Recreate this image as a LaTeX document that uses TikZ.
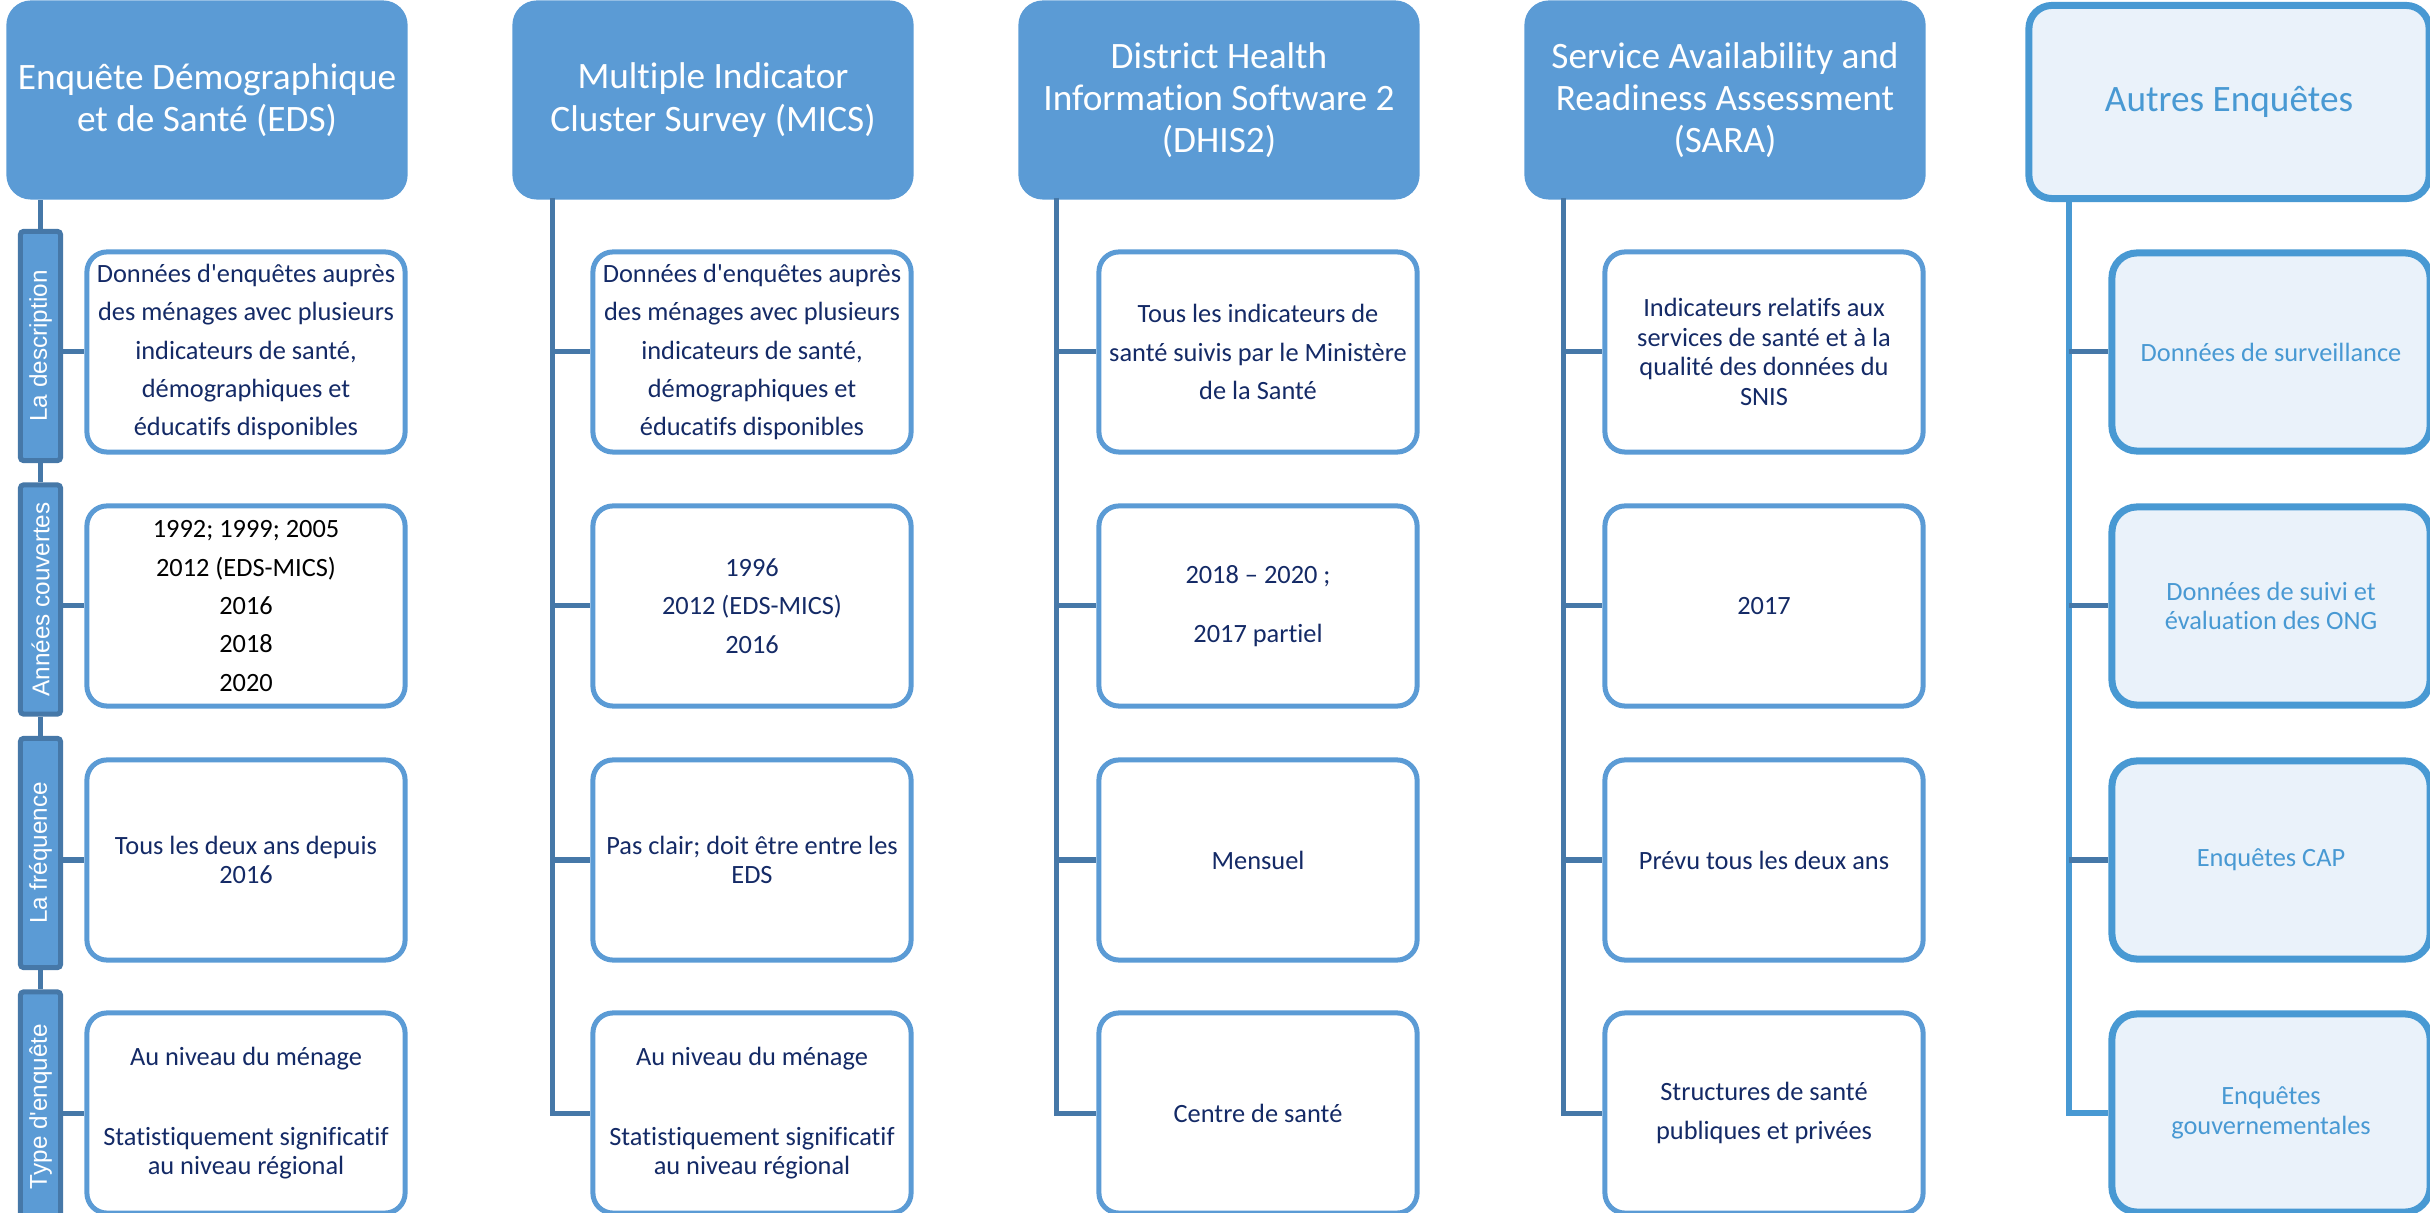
\documentclass[tikz,border=0pt]{standalone}
\usepackage{fontspec}
\setmainfont{Carlito}[Ligatures={NoCommon}]
\newfontfamily\arialfont{Liberation Sans}
\usepackage{xcolor}
\usepackage{tikz}
\usetikzlibrary{positioning, calc}
\definecolor{hdrblue}{RGB}{91,155,213}
\definecolor{trunkblue}{RGB}{70,120,168}
\definecolor{navytext}{RGB}{20,42,102}
\definecolor{paleblue}{RGB}{234,242,250}
\definecolor{otherblue}{RGB}{72,153,211}

\begin{document}
\begin{tikzpicture}[x=0.01cm, y=-0.01cm]
\tikzstyle{hdr}=[rectangle, rounded corners=2.3mm, fill=hdrblue, draw=hdrblue, line width=0.3mm, minimum width=3.98cm, minimum height=1.96cm, inner sep=0pt, align=center, text=white, font=\fontsize{10.6}{12}\selectfont]
\tikzstyle{infobox}=[rectangle, rounded corners=2mm, fill=white, draw=hdrblue, line width=0.5mm, minimum width=3.18cm, minimum height=2cm, inner sep=0pt, align=center, text=navytext, font=\fontsize{7.5}{8.4}\selectfont]
\tikzstyle{wideinfo}=[infobox, font=\fontsize{7.5}{10.9}\selectfont]
\tikzstyle{sidelabel}=[rectangle, rounded corners=0.3mm, fill=hdrblue, draw=trunkblue, line width=0.5mm, minimum width=2.29cm, minimum height=0.4cm, inner sep=0pt, rotate=90, text=white, font=\arialfont\fontsize{6.9}{8}\selectfont]
\tikzstyle{otherhdr}=[hdr, fill=paleblue, draw=otherblue, line width=0.7mm, text=otherblue, minimum width=4cm, minimum height=1.93cm]
\tikzstyle{otherbox}=[infobox, fill=paleblue, draw=otherblue, line width=0.7mm, text=otherblue, rounded corners=2.5mm, minimum height=1.98cm]
\tikzstyle{trunk}=[draw=trunkblue, line width=0.5mm]
\tikzstyle{othertrunk}=[draw=otherblue, line width=0.55mm]

\useasboundingbox (0,0) rectangle (2430,1213);
\clip (0,0) rectangle (2430,1213);

%% headers
\node (h1) at (207,100) [hdr] {Enquête Démographique\\et de Santé (EDS)};
\node (h2) at (713,100) [hdr] {Multiple Indicator\\Cluster Survey (MICS)};
\node (h3) at (1219,100) [hdr] {District Health\\Information Software 2\\(DHIS2)};
\node (h4) at (1725,100) [hdr] {Service Availability and\\Readiness Assessment\\(SARA)};
\node (h5) at (2229,102) [otherhdr] {Autres Enquêtes};

%% row labels
\node (l1) at (40.5,346) [sidelabel] {La description};
\node (l2) at (40.5,599.5) [sidelabel] {Années couvertes};
\node (l3) at (40.5,853) [sidelabel] {La fréquence};
\node (l4) at (40.5,1106.5) [sidelabel] {Type d\textquotesingle enquête};

%% EDS
\node (b11) at (246,352) [wideinfo] {Données d\textquotesingle enquêtes auprès\\des ménages avec plusieurs\\indicateurs de santé,\\démographiques et\\éducatifs disponibles};
\node (b12) at (246,606) [wideinfo, text=black] {1992; 1999; 2005\\2012 (EDS-MICS)\\2016\\2018\\2020};
\node (b13) at (246,860) [infobox] {Tous les deux ans depuis\\2016};
\node (b14) at (246,1113) [infobox] {Au niveau du ménage\\[14.4pt]Statistiquement significatif\\au niveau régional};

%% MICS
\node (b21) at (752,352) [wideinfo] {Données d\textquotesingle enquêtes auprès\\des ménages avec plusieurs\\indicateurs de santé,\\démographiques et\\éducatifs disponibles};
\node (b22) at (752,606) [wideinfo] {1996\\2012 (EDS-MICS)\\2016};
\node (b23) at (752,860) [infobox] {Pas clair; doit être entre les\\EDS};
\node (b24) at (752,1113) [infobox] {Au niveau du ménage\\[14.4pt]Statistiquement significatif\\au niveau régional};

%% DHIS2
\node (b31) at (1258,352) [wideinfo] {Tous les indicateurs de\\santé suivis par le Ministère\\de la Santé};
\node (b32) at (1258,606) [infobox] {2018 -- 2020 ;\\[8.4pt]2017 partiel};
\node (b33) at (1258,860) [infobox] {Mensuel};
\node (b34) at (1258,1113) [infobox] {Centre de santé};

%% SARA
\node (b41) at (1764,352) [infobox] {Indicateurs relatifs aux\\services de santé et à la\\qualité des données du\\SNIS};
\node (b42) at (1764,606) [infobox] {2017};
\node (b43) at (1764,860) [infobox] {Prévu tous les deux ans};
\node (b44) at (1764,1113) [wideinfo] {Structures de santé\\publiques et privées};

%% autres
\node (b51) at (2271,352) [otherbox] {Données de surveillance};
\node (b52) at (2271,606) [otherbox] {Données de suivi et\\évaluation des ONG};
\node (b53) at (2271,860) [otherbox] {Enquêtes CAP};
\node (b54) at (2271,1113) [otherbox] {Enquêtes\\gouvernementales};

%% trunks
\coordinate (v2) at (552,198);
\coordinate (v3) at (1056,198);
\coordinate (v4) at (1563,198);
\coordinate (v5) at (2069,202);

\draw [trunk] (l1.east) -- (l1.east |- h1.south);
\draw [trunk] (l1.west) -- (l2.east);
\draw [trunk] (l2.west) -- (l3.east);
\draw [trunk] (l3.west) -- (l4.east);
\draw [trunk] (l1.south |- b11.west) -- (b11.west);
\draw [trunk] (l2.south |- b12.west) -- (b12.west);
\draw [trunk] (l3.south |- b13.west) -- (b13.west);
\draw [trunk] (l4.south |- b14.west) -- (b14.west);

\draw [trunk] (v2) |- (b24.west);
\draw [trunk] (v2 |- b21.west) -- (b21.west);
\draw [trunk] (v2 |- b22.west) -- (b22.west);
\draw [trunk] (v2 |- b23.west) -- (b23.west);

\draw [trunk] (v3) |- (b34.west);
\draw [trunk] (v3 |- b31.west) -- (b31.west);
\draw [trunk] (v3 |- b32.west) -- (b32.west);
\draw [trunk] (v3 |- b33.west) -- (b33.west);

\draw [trunk] (v4) |- (b44.west);
\draw [trunk] (v4 |- b41.west) -- (b41.west);
\draw [trunk] (v4 |- b42.west) -- (b42.west);
\draw [trunk] (v4 |- b43.west) -- (b43.west);

\draw [othertrunk] (v5) |- (b54.west);
\draw [trunk] (v5 |- b51.west) -- (b51.west);
\draw [trunk] (v5 |- b52.west) -- (b52.west);
\draw [trunk] (v5 |- b53.west) -- (b53.west);
\end{tikzpicture}
\end{document}
